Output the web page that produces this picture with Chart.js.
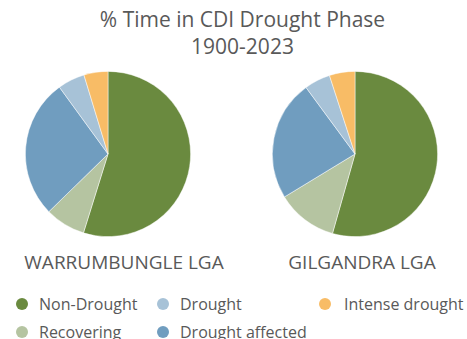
<!DOCTYPE html>
<html>
<head>
<meta charset="utf-8">
<script src="https://cdn.jsdelivr.net/npm/chart.js@4/dist/chart.umd.min.js"></script>
<style>
  html, body { margin: 0; padding: 0; background: #fff; }
  body { width: 467px; height: 339px; position: relative; overflow: hidden;
         font-family: "Open Sans", "Liberation Sans", sans-serif; color: #595959; }
  .title { position: absolute; left: 0; width: 485px; top: 6px; text-align: center;
           font-size: 21px; line-height: 27px; font-weight: 400; }
  .pie { position: absolute; top: 71px; width: 166px; height: 166px; }
  .lga { position: absolute; top: 250px; font-size: 19px; line-height: 24px;
         transform: translateX(-50%); white-space: nowrap; }
  .leg { position: absolute; font-size: 16px; line-height: 20px; white-space: nowrap;
         transform: translateY(-50%); }
  .dot { position: absolute; width: 12px; height: 12px; border-radius: 50%; top: 4px; }
</style>
</head>
<body>
<div class="title">% Time in CDI Drought Phase<br>1900-2023</div>
<canvas id="pieA" class="pie" width="166" height="166" style="left:25px"></canvas>
<canvas id="pieB" class="pie" width="166" height="166" style="left:272px"></canvas>
<div class="lga" style="left:124px">WARRUMBUNGLE LGA</div>
<div class="lga" style="left:362px">GILGANDRA LGA</div>
<div id="legend"></div>
<script>
// Drought phase categories, in slice order (clockwise from 12 o'clock)
const categories = ['Non-Drought', 'Recovering', 'Drought affected', 'Drought', 'Intense drought'];
// Percentage of time spent in each phase, 1900-2023
const warrumbungleValues = [54.8, 7.9, 27.3, 5.3, 4.7];
const gilgandraValues = [54.4, 11.9, 23.6, 5.1, 5.0];
// Order the categories appear in the legend grid (row by row)
const legendOrder = ['Non-Drought', 'Drought', 'Intense drought', 'Recovering', 'Drought affected'];

const phaseColors = {
  'Non-Drought': '#6A8A3F',
  'Recovering': '#B5C4A1',
  'Drought affected': '#709DBF',
  'Drought': '#A7C2D7',
  'Intense drought': '#F8BC66'
};

function makePie(id, values) {
  return new Chart(document.getElementById(id), {
    type: 'pie',
    data: {
      labels: categories,
      datasets: [{
        data: values,
        backgroundColor: categories.map(c => phaseColors[c]),
        borderColor: 'rgba(255,255,255,0.6)',
        borderWidth: 0.8
      }]
    },
    options: {
      responsive: false,
      animation: false,
      devicePixelRatio: 1,
      layout: { padding: 0 },
      plugins: { legend: { display: false }, tooltip: { enabled: false }, title: { display: false } }
    }
  });
}

makePie('pieA', warrumbungleValues);
makePie('pieB', gilgandraValues);

// Legend laid out as a three-column grid
const colLeft = [16, 157, 319];
const rowMid = [304, 332];
const legendEl = document.getElementById('legend');
legendOrder.forEach((name, i) => {
  const item = document.createElement('div');
  item.className = 'leg';
  item.style.left = colLeft[i % 3] + 'px';
  item.style.top = rowMid[Math.floor(i / 3)] + 'px';
  item.style.paddingLeft = (i % 3 === 2 ? 25 : 23) + 'px';
  const dot = document.createElement('span');
  dot.className = 'dot';
  dot.style.left = '0px';
  dot.style.background = phaseColors[name];
  item.appendChild(dot);
  item.appendChild(document.createTextNode(name));
  legendEl.appendChild(item);
});
</script>
</body>
</html>
